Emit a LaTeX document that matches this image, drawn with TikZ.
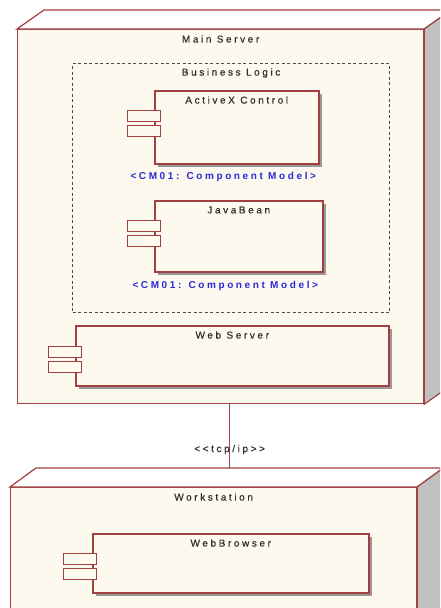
\documentclass[tikz,border=0pt]{standalone}
\usepackage{fontspec}
\setmainfont{Liberation Sans}
\newfontfamily\lblfont[LetterSpace=26,FakeBold=0.4]{Liberation Sans}
\newfontfamily\stereofont[LetterSpace=26]{Liberation Sans Bold}
\usetikzlibrary{calc,shadows}

\definecolor{umlred}{RGB}{160,64,64}
\definecolor{umlcream}{RGB}{253,249,239}
\definecolor{umlgray}{RGB}{192,192,192}
\definecolor{umlblue}{RGB}{40,40,220}
\definecolor{umltext}{RGB}{45,45,45}

\tikzset{
  face/.style={draw=umlred, line width=1.2pt, line join=miter},
  nodebox/.style={draw=umlred, fill=umlcream, line width=1.2pt, rectangle,
    anchor=north west, inner sep=0pt},
  comp/.style={draw=umlred, fill=umlcream, line width=1.5pt, rectangle,
    anchor=north west, inner sep=0pt,
    drop shadow={shadow xshift=3pt, shadow yshift=-3pt, fill=black!40, opacity=1}},
  port/.style={draw=umlred, fill=umlcream, line width=1.2pt, rectangle,
    minimum width=33pt, minimum height=11pt, anchor=north west, inner sep=0pt},
  pkgbox/.style={draw=black!70, dash pattern=on 3pt off 2.5pt, line width=1.2pt,
    rectangle, anchor=north west, inner sep=0pt},
  title/.style={font=\lblfont\fontsize{10}{12}\selectfont, text=umltext, inner sep=0pt},
  stereo/.style={font=\stereofont\fontsize{10}{12}\selectfont, text=umlblue, inner sep=0pt},
  conn/.style={draw=umlred, line width=1.5pt},
}

\begin{document}
\begin{tikzpicture}[x=1pt, y=-1pt]
  \useasboundingbox (0,0) rectangle (440,608);
  \fill[white] (0,0) rectangle (440,608);
  \clip (0,0) rectangle (440,608);

  % ---- Main Server node ----
  \node[nodebox, minimum width=406pt, minimum height=374pt] (ms) at (17,29) {};
  \draw[face, fill=white] (ms.north west) -- ++(27pt,19pt)
    -- ($(ms.north east)+(27pt,19pt)$) -- (ms.north east) -- cycle;
  \draw[face, fill=umlgray] (ms.north east) -- ++(27pt,19pt)
    -- ($(ms.south east)+(27pt,19pt)$) -- (ms.south east) -- cycle;
  \node[title] (mst) at ($(ms.north)+(0,10)$) {Main Server};

  % Business Logic package
  \node[pkgbox, minimum width=317pt, minimum height=249pt] (bl) at (72,63) {};
  \node[title] (blt) at ($(bl.north)+(0,10)$) {Business Logic};

  % ActiveX Control component
  \node[comp, minimum width=164pt, minimum height=73pt] (ax) at (154,90) {};
  \node[port] (axp1) at ($(ax.north west)+(-27,20)$) {};
  \node[port] (axp2) at ($(ax.north west)+(-27,35)$) {};
  \node[title] (axt) at ($(ax.north)+(0,10)$) {ActiveX Control};
  \node[stereo, yshift=-12pt] (axs)
    at ($(axp1.west |- ax.south)!0.5!(ax.south east)$) {<CM01: Component Model>};

  % JavaBean component
  \node[comp, minimum width=168pt, minimum height=71pt] (jb) at (154,200) {};
  \node[port] (jbp1) at ($(jb.north west)+(-27,20)$) {};
  \node[port] (jbp2) at ($(jb.north west)+(-27,35)$) {};
  \node[title] (jbt) at ($(jb.north)+(0,10)$) {JavaBean};
  \node[stereo, yshift=-13pt] (jbs)
    at ($(jbp1.west |- jb.south)!0.5!(jb.south east)$) {<CM01: Component Model>};

  % Web Server component
  \node[comp, minimum width=313pt, minimum height=60pt] (wsv) at (75,325) {};
  \node[port] (wsvp1) at ($(wsv.north west)+(-27,21)$) {};
  \node[port] (wsvp2) at ($(wsv.north west)+(-27,36)$) {};
  \node[title] (wsvt) at ($(wsv.north)+(0,10)$) {Web Server};

  % ---- Workstation node ----
  \node[nodebox, minimum width=406pt, minimum height=200pt] (ws) at (10,487) {};
  \draw[face, fill=white] (ws.north west) -- ++(26pt,19pt)
    -- ($(ws.north east)+(26pt,19pt)$) -- (ws.north east) -- cycle;
  \draw[face, fill=umlgray] (ws.north east) -- ++(26pt,19pt)
    -- ($(ws.south east)+(26pt,19pt)$) -- (ws.south east) -- cycle;
  \node[title] (wst) at ($(ws.north)+(0,10)$) {Workstation};

  % WebBrowser component
  \node[comp, minimum width=276pt, minimum height=59pt] (wb) at (92,533) {};
  \node[port] (wbp1) at ($(wb.north west)+(-29,20)$) {};
  \node[port] (wbp2) at ($(wb.north west)+(-29,35)$) {};
  \node[title] (wbt) at ($(wb.north)+(0,10)$) {WebBrowser};

  % ---- communication path ----
  \coordinate (wsback) at ($(ws.north)+(16pt,19pt)$);
  \draw[conn] (ms.south -| wsback) -- (wsback)
    node[title, pos=0.71] (tcp) {<<tcp/ip>>};
\end{tikzpicture}
\end{document}
